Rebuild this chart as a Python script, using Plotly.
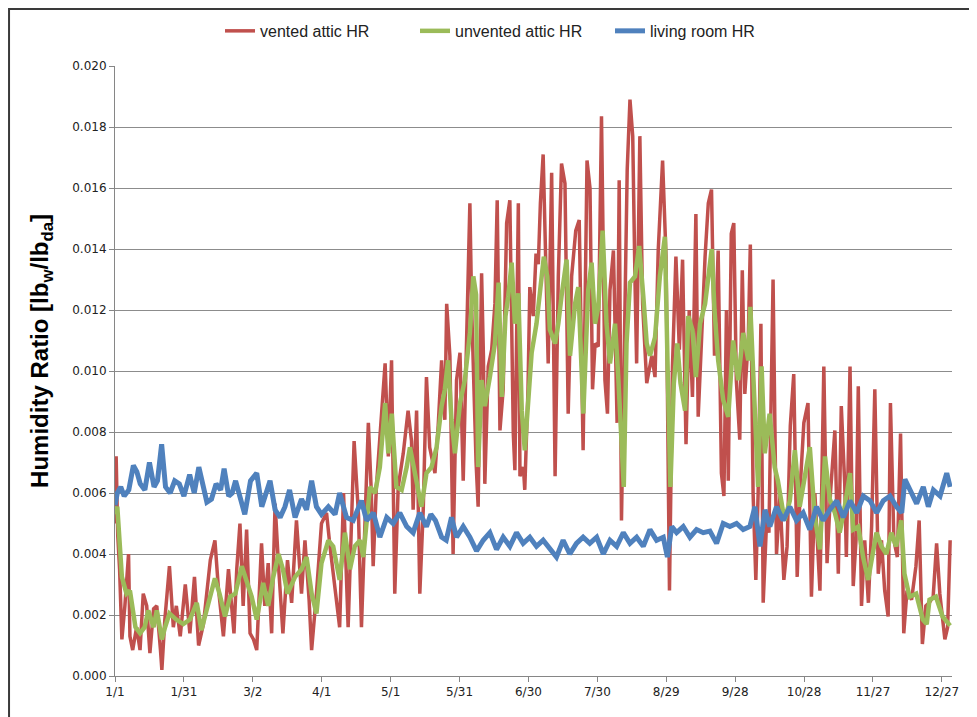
import plotly.graph_objects as go

# day of year (0 = 1/1), humidity ratio [lb_w/lb_da]
vented_pts = [
    (0, 0.0050), (0.5, 0.0072), (1.2, 0.0046), (2, 0.0035), (3, 0.0012), (4.3, 0.0023),
    (5.9, 0.0040), (6.5, 0.0013), (7.7, 0.00085), (9.4, 0.0016), (10.9, 0.00085), (12.3, 0.0027),
    (13.8, 0.0023), (15.2, 0.00075), (16.8, 0.0022), (18.2, 0.0023), (19.8, 0.00085), (20.4, 0.0002),
    (21.7, 0.00185), (23.7, 0.0036), (25.4, 0.0016), (26.7, 0.0023), (28.4, 0.0013), (30.6, 0.0030),
    (32.6, 0.0014), (34.6, 0.00325), (36.4, 0.0010), (38.5, 0.0017), (41.5, 0.0038), (43.5, 0.00445),
    (45, 0.0029), (47.2, 0.0013), (49.4, 0.0035), (50.9, 0.0023), (51.8, 0.0014), (53, 0.0035),
    (54.4, 0.0050), (55.8, 0.0023), (57.3, 0.0048), (58.8, 0.0014), (60.3, 0.0012), (61.7, 0.00085),
    (63.8, 0.00435), (65.2, 0.0023), (66.7, 0.0037), (68.2, 0.0014), (69.7, 0.00565), (71.2, 0.0036),
    (73.1, 0.0014), (75.1, 0.0038), (76.9, 0.0024), (79, 0.0051), (81.2, 0.0027), (82.7, 0.00445),
    (84.5, 0.0025), (85.6, 0.00085), (87.7, 0.0027), (89.9, 0.0050), (92.1, 0.00535), (93.6, 0.00425),
    (96.4, 0.0024), (97.8, 0.0016), (99.5, 0.0060), (101.5, 0.0016), (104.1, 0.0077), (106, 0.0053),
    (107.3, 0.0016), (108.7, 0.0048), (110.3, 0.0083), (111.6, 0.0060), (112.4, 0.0036), (113.8, 0.0062),
    (116.8, 0.0094), (117.6, 0.01025), (119, 0.0072), (120.4, 0.01035), (121.8, 0.0027), (123.3, 0.0062),
    (125.5, 0.0073), (127.6, 0.0087), (129.1, 0.0077), (129.8, 0.00545), (131.3, 0.0087), (132.7, 0.0027),
    (134.2, 0.00545), (135.6, 0.0098), (137, 0.0075), (139.3, 0.00665), (140.7, 0.0082), (142.2, 0.01035),
    (143.6, 0.0084), (144.4, 0.0122), (145.8, 0.0105), (147.2, 0.0040), (148.7, 0.0097), (150.2, 0.0106),
    (151.6, 0.0064), (153.1, 0.0111), (154.5, 0.0155), (155.3, 0.0120), (156.1, 0.0096), (157.2, 0.0070),
    (158.1, 0.00555), (159.6, 0.0132), (160.4, 0.0105), (161, 0.0063), (162.5, 0.01015), (164, 0.0107),
    (165.4, 0.0122), (166.4, 0.0156), (167.6, 0.00805), (169, 0.0094), (170.5, 0.01485), (171.9, 0.0156),
    (173.4, 0.00795), (174.1, 0.00675), (175.6, 0.0155), (176.3, 0.00655), (177.8, 0.00685), (178.4, 0.0061),
    (179.8, 0.0094), (180.6, 0.01275), (182.1, 0.0118), (183.3, 0.01385), (184.3, 0.0135), (185.2, 0.0155),
    (186.4, 0.0171), (187.7, 0.01265), (188.6, 0.01025), (190.1, 0.0165), (191.6, 0.00655), (193, 0.0131),
    (194.4, 0.0168), (195.9, 0.01615), (197.3, 0.0086), (198.8, 0.0131), (200.6, 0.0146), (202.1, 0.01495),
    (203.8, 0.0074), (205.5, 0.0169), (206.8, 0.0160), (207.9, 0.0094), (209, 0.0109), (210.4, 0.0108),
    (211.8, 0.01835), (213.3, 0.0097), (214.4, 0.0086), (215.5, 0.01265), (217, 0.01395), (218.6, 0.0083),
    (219.5, 0.01625), (220.5, 0.0051), (222, 0.0129), (223, 0.0166), (224.2, 0.0189), (225.4, 0.0177),
    (226.4, 0.0129), (227.1, 0.01025), (228.5, 0.0177), (229.7, 0.0122), (231.5, 0.0096), (233.7, 0.0105),
    (235.1, 0.0098), (236.5, 0.01395), (238.4, 0.0169), (239.9, 0.01375), (241.4, 0.0028), (242.7, 0.01015),
    (244.2, 0.01375), (245.7, 0.0107), (247.1, 0.01365), (248.6, 0.0076), (250, 0.0120), (251.4, 0.00915),
    (252.9, 0.01515), (253.9, 0.0085), (255.4, 0.0111), (256.9, 0.01375), (258.3, 0.0155), (259.7, 0.01595),
    (261, 0.0105), (262.6, 0.01395), (264, 0.00665), (265.1, 0.0059), (266.2, 0.0120), (267, 0.0064),
    (268.3, 0.0145), (269.4, 0.01485), (270.5, 0.0097), (272, 0.00775), (273.1, 0.0133), (274.2, 0.00925),
    (275.7, 0.0110), (276.6, 0.01415), (277.8, 0.0060), (279, 0.00315), (280, 0.0060), (281.2, 0.01155),
    (282.2, 0.0024), (283.7, 0.0051), (284.7, 0.0047), (286.5, 0.0130), (288, 0.0040), (289.5, 0.0059),
    (291.2, 0.00315), (292.6, 0.00425), (294, 0.0082), (295.5, 0.0099), (297, 0.00325), (298.4, 0.0063),
    (299.9, 0.0083), (301.7, 0.00895), (303.2, 0.0026), (304.7, 0.0060), (306.9, 0.0028), (308.6, 0.01015),
    (310, 0.0037), (311.5, 0.0060), (313.4, 0.00805), (314.9, 0.00335), (316.2, 0.00885), (317.7, 0.0063),
    (318.4, 0.0039), (320, 0.01015), (321.4, 0.00295), (322.6, 0.00445), (323.6, 0.0095), (325, 0.0023),
    (326.4, 0.00445), (328, 0.0024), (329.4, 0.0049), (330.8, 0.0094), (332.3, 0.00335), (333.7, 0.00445),
    (335.1, 0.0028), (336.6, 0.00195), (337.6, 0.00895), (339.1, 0.00445), (340.6, 0.0039), (342, 0.00795),
    (343.4, 0.0014), (344.8, 0.0028), (346.8, 0.0025), (348.7, 0.0036), (350.1, 0.0051), (351.5, 0.00105),
    (353, 0.0023), (354.5, 0.0024), (356.2, 0.0026), (357.7, 0.00435), (359.1, 0.0027), (361.3, 0.0012),
    (362.5, 0.0016), (363.6, 0.00445),
]

unvented_pts = [
    (0, 0.0053), (1, 0.00555), (3, 0.00325), (5, 0.0027), (6.5, 0.0028), (8.9, 0.0016), (10.9, 0.0014),
    (12.9, 0.0016), (14.5, 0.00215), (16.8, 0.0016), (18.2, 0.00215), (20.4, 0.0012), (21.8, 0.0016),
    (23.7, 0.00205), (26.7, 0.00185), (29.7, 0.0017), (32.6, 0.00185), (35.6, 0.0024), (37.6, 0.0015),
    (41.5, 0.0027), (43.5, 0.0032), (45.5, 0.0027), (47.9, 0.00195), (50.1, 0.0026), (52.4, 0.0027),
    (55.2, 0.0036), (57.3, 0.00315), (59.5, 0.0026), (61.7, 0.00185), (64.5, 0.00305), (66.7, 0.0023),
    (68.9, 0.00325), (71.2, 0.0040), (73.1, 0.0035), (75.1, 0.0027), (78.4, 0.00325), (81.2, 0.0035),
    (83.4, 0.0039), (85.6, 0.0027), (87.7, 0.00205), (89.9, 0.0037), (92.9, 0.00445), (95, 0.00425),
    (97.8, 0.00315), (100.1, 0.0047), (102.3, 0.0035), (104.4, 0.00425), (106.7, 0.00445), (108.1, 0.0039),
    (111, 0.0062), (113.2, 0.0060), (115.3, 0.00685), (117.6, 0.00895), (119, 0.0073), (120.5, 0.0086),
    (122.5, 0.0062), (124.8, 0.0061), (127, 0.00685), (128.4, 0.0075), (130.5, 0.00665), (133.4, 0.00555),
    (135.6, 0.00665), (137.8, 0.00685), (140, 0.0075), (142.2, 0.00885), (143.6, 0.0094), (145, 0.01035),
    (146.5, 0.0084), (148, 0.0073), (150.2, 0.00895), (152.3, 0.0097), (154.5, 0.01125), (156, 0.0131),
    (157.2, 0.0125), (158.1, 0.00685), (159.6, 0.0097), (161, 0.00885), (163.2, 0.0098), (165.4, 0.0109),
    (167, 0.0129), (168.4, 0.00915), (170, 0.0118), (171.2, 0.01245), (172.7, 0.01355), (174.1, 0.01155),
    (175.6, 0.01255), (177.1, 0.0087), (178.4, 0.0074), (179.8, 0.0087), (181.4, 0.0106), (183.5, 0.01155),
    (184.9, 0.01265), (186.7, 0.01375), (188.2, 0.0131), (189.3, 0.01135), (191.6, 0.0109), (193, 0.01155),
    (194.4, 0.01245), (196.6, 0.01365), (198.1, 0.0105), (200.3, 0.0122), (201.7, 0.01275), (203.9, 0.0086),
    (206, 0.01265), (207.5, 0.01355), (209, 0.01155), (210.4, 0.0121), (212.3, 0.0146), (214, 0.01155),
    (215.5, 0.01025), (217.7, 0.01155), (219.1, 0.0098), (220.5, 0.0073), (221.5, 0.0062), (222.7, 0.0109),
    (224.2, 0.0129), (226.4, 0.0131), (228.2, 0.0141), (230, 0.01245), (231.5, 0.0109), (232.9, 0.0105),
    (235.1, 0.0111), (237.2, 0.0131), (239.4, 0.0144), (240.8, 0.0094), (241.8, 0.0062), (243.3, 0.0096),
    (244.8, 0.0109), (246.2, 0.0096), (248.2, 0.0087), (249.6, 0.0118), (251.4, 0.01135), (252.9, 0.0098),
    (254.7, 0.01155), (256.9, 0.0122), (258.3, 0.0131), (259.8, 0.0140), (261, 0.0120), (262.6, 0.01035),
    (264.8, 0.00905), (267, 0.0085), (269.1, 0.0110), (271.3, 0.0097), (273.5, 0.01125), (275.7, 0.01035),
    (276.6, 0.0121), (278.6, 0.0082), (280, 0.0062), (281.5, 0.01015), (282.9, 0.0073), (285, 0.0086),
    (287.2, 0.00685), (288.6, 0.0064), (291.5, 0.0051), (293.8, 0.00575), (296, 0.0074), (298.1, 0.00555),
    (300.4, 0.00665), (302.5, 0.0075), (304.7, 0.0052), (306.9, 0.00415), (309.1, 0.0072), (311.2, 0.0058),
    (313.4, 0.00535), (315.5, 0.0047), (317.7, 0.00555), (320, 0.00665), (321.4, 0.0048), (323.6, 0.0049),
    (325.7, 0.0039), (327.9, 0.00315), (329.4, 0.0038), (331.5, 0.0047), (333.7, 0.00425), (335.8, 0.0040),
    (338, 0.0047), (340.1, 0.00425), (342.3, 0.0051), (343.7, 0.00335), (345.9, 0.0026), (348.8, 0.0027),
    (351.7, 0.00185), (353.4, 0.0017), (354.6, 0.0025), (357.4, 0.0026), (360.3, 0.00195), (362.5, 0.00175),
    (363.6, 0.00165),
]

living_pts = [
    (0, 0.0056), (1, 0.0060), (2.5, 0.0062), (4, 0.0059), (6, 0.0061), (8, 0.0069), (9.5, 0.0067),
    (11, 0.0063), (13, 0.0061), (15, 0.0070), (17, 0.0062), (18.5, 0.0064), (20.3, 0.0076), (22, 0.0062),
    (24, 0.0060), (26, 0.0064), (28, 0.0063), (30, 0.0059), (32.5, 0.0066), (34.5, 0.0060), (36.5, 0.00685),
    (38.5, 0.0062), (40, 0.0057), (42, 0.0058), (44, 0.0063), (46, 0.0061), (47.5, 0.0068), (49.5, 0.0059),
    (51, 0.0060), (52.5, 0.0064), (54.5, 0.0058), (56.5, 0.0053), (59, 0.0064), (61.7, 0.00665),
    (63.9, 0.00555), (66, 0.0061), (67.5, 0.0064), (69.7, 0.00545), (71.9, 0.0052), (74, 0.00555),
    (76, 0.0061), (78.4, 0.0052), (81.2, 0.0058), (83.4, 0.00545), (85.6, 0.0064), (87.7, 0.00555),
    (89.9, 0.0053), (92.9, 0.00555), (95.8, 0.0053), (97.8, 0.0060), (100.8, 0.0052), (103.7, 0.0051),
    (105.5, 0.0054), (107.3, 0.00575), (109.5, 0.0051), (112.5, 0.00535), (115.3, 0.00455), (118.3, 0.0052),
    (121.1, 0.0050), (124, 0.00535), (127, 0.0049), (129.8, 0.0047), (132.7, 0.00535), (135.6, 0.0049),
    (137.5, 0.0053), (139.5, 0.0051), (142.2, 0.00455), (144.2, 0.00445), (146.5, 0.0052), (148.7, 0.00455),
    (151.6, 0.0049), (154.5, 0.00455), (157.4, 0.0041), (160.3, 0.00445), (163.2, 0.0047), (166.1, 0.00415),
    (169, 0.00455), (171.9, 0.00425), (174.8, 0.0047), (177.7, 0.00435), (180.6, 0.00455), (183.5, 0.00425),
    (186.4, 0.00445), (189.3, 0.00415), (192.2, 0.0039), (195.1, 0.00445), (198, 0.0040), (200.9, 0.00435),
    (203.8, 0.00455), (206.7, 0.00435), (209.7, 0.00455), (212.6, 0.0040), (215.5, 0.00445), (218.4, 0.00425),
    (221.3, 0.0047), (224.2, 0.00435), (227.1, 0.00455), (230, 0.00425), (232.9, 0.0048), (235.8, 0.00445),
    (238.7, 0.00455), (240.5, 0.0039), (242.4, 0.0049), (244.5, 0.0047), (247.4, 0.0049), (250.3, 0.00455),
    (253.2, 0.0048), (256.1, 0.0047), (259, 0.00475), (261.9, 0.00435), (264.8, 0.0050), (267.7, 0.0049),
    (270.6, 0.0050), (273.5, 0.0048), (276.4, 0.0049), (278.6, 0.00555), (280.8, 0.00425), (283, 0.00545),
    (285.1, 0.0049), (288, 0.00555), (290.9, 0.0051), (293.8, 0.00555), (296.7, 0.0051), (299.6, 0.00535),
    (302.5, 0.0048), (305.4, 0.00555), (308.3, 0.0051), (311.2, 0.00545), (314.2, 0.00575), (317.1, 0.0052),
    (320, 0.00575), (322.9, 0.00535), (325.8, 0.0059), (328.7, 0.00575), (331.6, 0.00535), (334.5, 0.00575),
    (337.4, 0.0059), (340.3, 0.00555), (342.5, 0.00535), (343.9, 0.00645), (346.1, 0.0061), (349, 0.00565),
    (351.9, 0.0062), (354.1, 0.00555), (356.3, 0.0061), (359.2, 0.0059), (362.1, 0.00665), (363.6, 0.0062),
]

tick_days = [0, 30, 60, 90, 120, 150, 180, 210, 240, 270, 300, 330, 360]
tick_labels = ["1/1", "1/31", "3/2", "4/1", "5/1", "5/31", "6/30", "7/30", "8/29",
               "9/28", "10/28", "11/27", "12/27"]

series = [
    ("vented attic HR", vented_pts, "#C0504D", 3.5),
    ("unvented attic HR", unvented_pts, "#9BBB59", 4.5),
    ("living room HR", living_pts, "#4F81BD", 5),
]

fig = go.Figure()
for name, pts, color, width in series:
    days, hr = zip(*pts)
    fig.add_trace(go.Scatter(x=list(days), y=list(hr), name=name, mode="lines",
                             line=dict(color=color, width=width)))

axis_font = dict(family="DejaVu Sans, Verdana, sans-serif", size=12, color="#222")

fig.update_layout(
    width=977, height=717,
    margin=dict(l=107, r=33, t=58, b=49, autoexpand=False),
    paper_bgcolor="white", plot_bgcolor="white",
    showlegend=True,
    legend=dict(orientation="h", xref="container", x=0.217, xanchor="left",
                yref="container", y=0.968, yanchor="middle",
                font=dict(family="Liberation Sans, Arial, sans-serif", size=16, color="#222"),
                entrywidth=150, entrywidthmode="pixels", itemwidth=30),
    xaxis=dict(range=[0, 364.4], tickvals=tick_days, ticktext=tick_labels,
               showgrid=False, showline=True, linecolor="#868686", linewidth=1,
               ticks="outside", ticklen=5, tickcolor="#868686", tickfont=axis_font,
               zeroline=False),
    yaxis=dict(range=[0, 0.020], dtick=0.002, tickformat=".3f",
               showgrid=True, gridcolor="#8c8c8c", gridwidth=1,
               showline=True, linecolor="#868686", linewidth=1,
               ticks="outside", ticklen=5, tickcolor="#868686", tickfont=axis_font,
               zeroline=False),
)

# y-axis title, placed as in the original (slightly above the plot's middle)
fig.add_annotation(text="<b>Humidity Ratio [lb<sub>w</sub>/lb<sub>da</sub>]</b>",
                   xref="paper", yref="paper", x=-0.0872, y=0.533,
                   xanchor="center", yanchor="middle", textangle=-90, showarrow=False,
                   font=dict(family="Liberation Sans, Arial, sans-serif", size=24, color="#000"))

# chart-area border
fig.add_shape(type="rect", xref="paper", yref="paper",
              x0=-0.1266, x1=1.0275, y0=-0.085, y1=1.0934,
              line=dict(color="#3a3a3a", width=2), layer="below")

fig.write_html("out.html")
